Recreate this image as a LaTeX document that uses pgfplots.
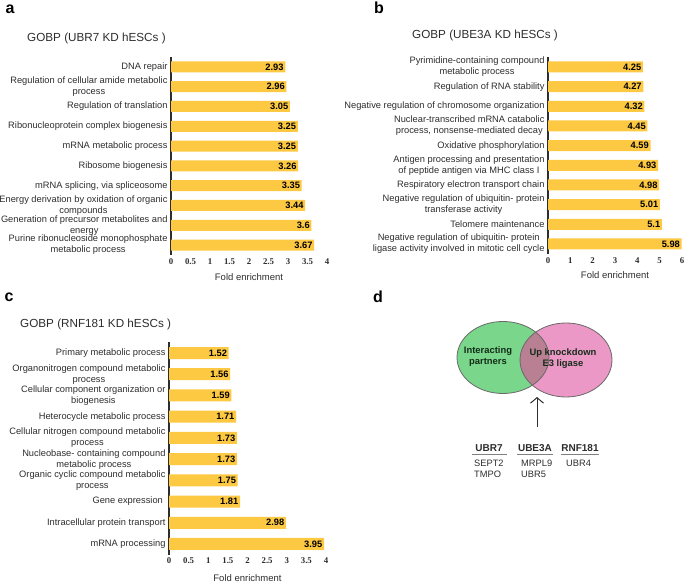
\documentclass[border=0pt]{standalone}
\usepackage{fontspec}
\setmainfont{Liberation Sans}
\newfontfamily\tickfont{Liberation Serif}
\usepackage{pgfplots}
\pgfplotsset{compat=1.18}
\usetikzlibrary{arrows.meta}
\definecolor{baryellow}{RGB}{253,200,66}
\definecolor{labgray}{RGB}{45,45,45}
\definecolor{vgreen}{RGB}{122,214,138}
\definecolor{vpink}{RGB}{236,152,198}
\definecolor{vmix}{RGB}{184,128,146}
\definecolor{vedge}{RGB}{105,105,105}
\definecolor{vtext}{RGB}{20,45,25}

\pgfplotsset{gobp/.style={
  scale only axis, anchor=south west, clip=false,
  xbar, bar width=11pt, y dir=reverse,
  ymin=-0.5, ymax=9.5, ytick={0,...,9}, xmin=0,
  axis x line*=bottom, axis y line*=left,
  x axis line style={draw=none},
  y axis line style={line width=1.8pt, draw=labgray, -},
  major tick length=0pt,
  /pgf/number format/assume math mode=true,
  xticklabel style={font=\tickfont\bfseries\fontsize{8.8}{10}\selectfont, text=labgray},
  yticklabel style={font=\fontsize{9.3}{11}\selectfont, align=center, text=labgray},
  xlabel={Fold enrichment}, xlabel style={font=\fontsize{9.5}{11}\selectfont, text=labgray},
  nodes near coords, point meta=x,
  every node near coord/.append style={anchor=east, font=\bfseries\fontsize{9.3}{10}\selectfont, text=black, inner sep=1.5pt},
}}

\begin{document}
\begin{tikzpicture}
\path[use as bounding box] (0,0) rectangle (685pt,585pt);

% Panel a
\begin{axis}[gobp, at={(171pt,330pt)}, width=156pt, height=198pt, xmax=4,
  xtick={0,0.5,...,4}, xlabel style={yshift=-2pt},
  yticklabels={{DNA repair},{Regulation of cellular amide metabolic\\process},{Regulation of translation},{Ribonucleoprotein complex biogenesis},{mRNA metabolic process},{Ribosome biogenesis},{mRNA splicing, via spliceosome},{Energy derivation by oxidation of organic\\compounds},{Generation of precursor metabolites and\\energy},{Purine ribonucleoside monophosphate\\metabolic process}}]
\addplot[fill=baryellow, draw=none] coordinates {(2.93,0) (2.96,1) (3.05,2) (3.25,3) (3.25,4) (3.26,5) (3.35,6) (3.44,7) (3.6,8) (3.67,9)};
\end{axis}

% Panel b
\begin{axis}[gobp, at={(548pt,331.2pt)}, width=134pt, height=196.7pt, xmax=6,
  xtick={0,...,6}, xlabel style={yshift=-1pt},
  yticklabels={{Pyrimidine-containing compound\\metabolic process},{Regulation of RNA stability},{Negative regulation of chromosome organization},{Nuclear-transcribed mRNA catabolic\\process, nonsense-mediated decay},{Oxidative phosphorylation},{Antigen processing and presentation\\of peptide antigen via MHC class I},{Respiratory electron transport chain},{Negative regulation of ubiquitin- protein\\transferase activity},{Telomere maintenance},{Negative regulation of ubiquitin- protein\\ligase activity involved in mitotic cell cycle}}]
\addplot[fill=baryellow, draw=none] coordinates {(4.25,0) (4.27,1) (4.32,2) (4.45,3) (4.59,4) (4.93,5) (4.98,6) (5.01,7) (5.1,8) (5.98,9)};
\end{axis}

% Panel c
\begin{axis}[gobp, at={(169pt,30.4pt)}, width=157pt, height=212.2pt, xmax=4, bar width=12pt,
  xtick={0,0.5,...,4}, xlabel style={yshift=-3.5pt},
  yticklabels={{Primary metabolic process},{Organonitrogen compound metabolic\\process},{Cellular component organization or\\biogenesis},{Heterocycle metabolic process},{Cellular nitrogen compound metabolic\\process},{Nucleobase- containing compound\\metabolic process},{Organic cyclic compound metabolic\\process},{Gene expression },{Intracellular protein transport},{mRNA processing}}]
\addplot[fill=baryellow, draw=none] coordinates {(1.52,0) (1.56,1) (1.59,2) (1.71,3) (1.73,4) (1.73,5) (1.75,6) (1.81,7) (2.98,8) (3.95,9)};
\end{axis}

% Titles and panel letters
\node[anchor=west, inner sep=0pt, font=\fontsize{11.7}{13}\selectfont, text=labgray] at (27pt,547pt) {GOBP (UBR7 KD hESCs )};
\node[anchor=west, inner sep=0pt, font=\fontsize{11.7}{13}\selectfont, text=labgray] at (412pt,550pt) {GOBP (UBE3A KD hESCs )};
\node[anchor=west, inner sep=0pt, font=\fontsize{11.7}{13}\selectfont, text=labgray] at (20pt,261pt) {GOBP (RNF181 KD hESCs )};
\node[font=\bfseries\fontsize{16}{18}\selectfont] at (10pt,576pt) {a};
\node[font=\bfseries\fontsize{16}{18}\selectfont] at (379pt,577pt) {b};
\node[font=\bfseries\fontsize{16}{18}\selectfont] at (9pt,288pt) {c};
\node[font=\bfseries\fontsize{16}{18}\selectfont] at (378pt,288pt) {d};

% Panel d: Venn diagram
\fill[vgreen] (503pt,227.5pt) ellipse [x radius=46pt, y radius=36pt];
\fill[vpink] (566pt,225pt) ellipse [x radius=46pt, y radius=37pt];
\begin{scope}
\clip (503pt,227.5pt) ellipse [x radius=46pt, y radius=36pt];
\fill[vmix] (566pt,225pt) ellipse [x radius=46pt, y radius=37pt];
\end{scope}
\draw[vedge, line width=0.8pt] (503pt,227.5pt) ellipse [x radius=46pt, y radius=36pt];
\draw[vedge, line width=0.8pt] (566pt,225pt) ellipse [x radius=46pt, y radius=37pt];
\node[font=\bfseries\fontsize{9.4}{11}\selectfont, align=center, text=vtext] at (488pt,228pt) {Interacting\\partners};
\node[font=\bfseries\fontsize{9.4}{11}\selectfont, align=center, text=vtext] at (563pt,226pt) {Up knockdown\\E3 ligase};
\draw[-{Straight Barb[length=5.5pt,width=13pt]}, line width=1pt, labgray] (537pt,158pt) -- (537pt,188pt);

\node[font=\bfseries\fontsize{10}{12}\selectfont, text=labgray] at (489pt,137pt) {UBR7};
\node[font=\bfseries\fontsize{10}{12}\selectfont, text=labgray] at (535pt,137pt) {UBE3A};
\node[font=\bfseries\fontsize{10}{12}\selectfont, text=labgray] at (580pt,137pt) {RNF181};
\draw[gray, line width=0.8pt] (472pt,131pt) -- (507pt,131pt);
\draw[gray, line width=0.8pt] (517pt,131pt) -- (553pt,131pt);
\draw[gray, line width=0.8pt] (561pt,131pt) -- (599pt,131pt);
\node[anchor=west, inner sep=0pt, font=\fontsize{9.3}{11}\selectfont, text=labgray] at (474pt,122pt) {SEPT2};
\node[anchor=west, inner sep=0pt, font=\fontsize{9.3}{11}\selectfont, text=labgray] at (474pt,111pt) {TMPO};
\node[anchor=west, inner sep=0pt, font=\fontsize{9.3}{11}\selectfont, text=labgray] at (521pt,122pt) {MRPL9};
\node[anchor=west, inner sep=0pt, font=\fontsize{9.3}{11}\selectfont, text=labgray] at (521pt,111pt) {UBR5};
\node[anchor=west, inner sep=0pt, font=\fontsize{9.3}{11}\selectfont, text=labgray] at (566pt,122pt) {UBR4};
\end{tikzpicture}
\end{document}
